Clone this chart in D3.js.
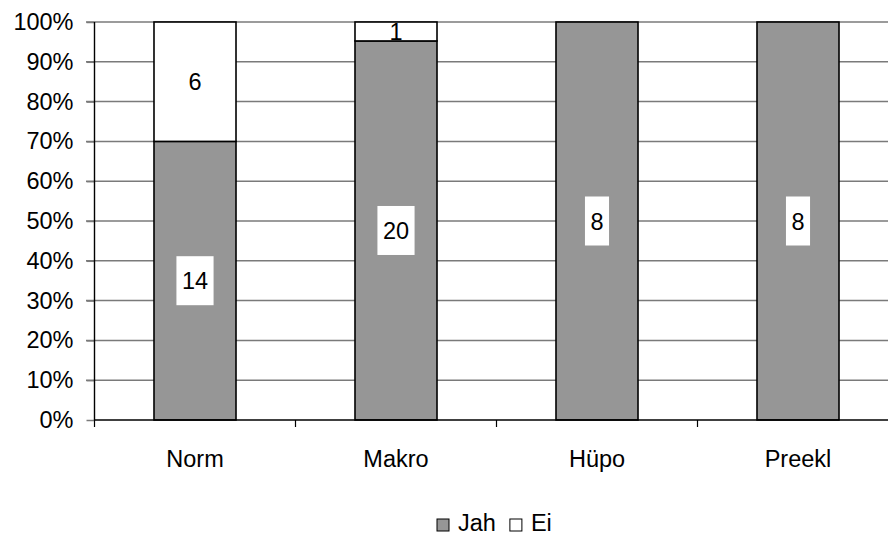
<!DOCTYPE html>
<html>
<head>
<meta charset="utf-8">
<script src="https://cdn.jsdelivr.net/npm/d3@7"></script>
<style>
  html, body { margin: 0; padding: 0; background: #fff; }
  svg { display: block; font-family: "Liberation Sans", Arial, sans-serif; }
</style>
</head>
<body>
<svg id="chart" width="888" height="535"></svg>
<script>
// Counts per group: "Jah" (yes) and "Ei" (no)
const categories = ["Norm", "Makro", "Hüpo", "Preekl"];
const jah = [14, 20, 8, 8];
const ei = [6, 1, 0, 0];
const seriesNames = ["Jah", "Ei"];
const yTicks = [0, 0.1, 0.2, 0.3, 0.4, 0.5, 0.6, 0.7, 0.8, 0.9, 1.0];

(function () {
  const rows = categories.map((c, i) => ({ cat: c, Jah: jah[i], Ei: ei[i] }));

  const svg = d3.select("#chart");
  const W = 888;
  const FS = 23.5;
  const plotLeft = 94.5, plotRight = 898.5, plotTop = 22, plotBottom = 420;

  const x = d3.scaleBand().domain(categories).range([plotLeft, plotRight]).paddingInner(0.592).paddingOuter(0.296);
  const y = d3.scaleLinear().domain([0, 1]).range([plotBottom, plotTop]);

  const stack = d3.stack().keys(seriesNames).offset(d3.stackOffsetExpand);
  const layers = stack(rows);
  const fills = { Jah: "#969696", Ei: "#ffffff" };

  // horizontal gridlines (also forming the y tick marks)
  svg.append("g").selectAll("line").data(yTicks.filter(t => t > 0)).join("line")
    .attr("x1", 86).attr("x2", W)
    .attr("y1", d => y(d)).attr("y2", d => y(d))
    .attr("stroke", "#7a7a7a").attr("stroke-width", 1.5);

  // y axis labels
  const yAxis = d3.axisLeft(y).tickValues(yTicks).tickFormat(d3.format(".0%")).tickSize(8).tickPadding(13);
  const gy = svg.append("g").attr("transform", `translate(${plotLeft},0)`).call(yAxis);
  gy.select(".domain").remove();
  gy.selectAll(".tick line").attr("stroke", "#7a7a7a").attr("stroke-width", 1.5);
  gy.selectAll(".tick text").attr("font-size", FS).attr("fill", "#000")
    .attr("font-family", "Liberation Sans, Arial, sans-serif");

  // stacked bars
  const gBars = svg.append("g");
  layers.forEach(layer => {
    gBars.append("g").selectAll("rect").data(layer.filter(d => d[1] - d[0] > 0)).join("rect")
      .attr("x", d => x(d.data.cat))
      .attr("width", x.bandwidth())
      .attr("y", d => y(d[1]))
      .attr("height", d => y(d[0]) - y(d[1]))
      .attr("fill", fills[layer.key])
      .attr("stroke", "#000").attr("stroke-width", 1.6);
  });

  // y axis line
  svg.append("line").attr("x1", plotLeft).attr("x2", plotLeft).attr("y1", plotTop).attr("y2", plotBottom)
    .attr("stroke", "#000").attr("stroke-width", 1.4);

  // x axis with ticks at category boundaries
  const gx = svg.append("g");
  gx.append("line").attr("x1", plotLeft).attr("x2", W).attr("y1", plotBottom).attr("y2", plotBottom)
    .attr("stroke", "#000").attr("stroke-width", 1.6);
  const step = x.step();
  const bounds = d3.range(categories.length + 1).map(i => plotLeft + i * step);
  gx.selectAll("line.tk").data(bounds).join("line").attr("class", "tk")
    .attr("x1", d => d).attr("x2", d => d).attr("y1", plotBottom).attr("y2", plotBottom + 7)
    .attr("stroke", "#000").attr("stroke-width", 1.2);
  gx.selectAll("text").data(categories).join("text")
    .attr("x", d => x(d) + x.bandwidth() / 2).attr("y", 467)
    .attr("text-anchor", "middle").attr("font-size", FS).text(d => d);

  // value labels in the middle of each segment
  const gLab = svg.append("g");
  layers.forEach(layer => {
    layer.filter(d => d[1] - d[0] > 0).forEach(d => {
      const cx = x(d.data.cat) + x.bandwidth() / 2;
      const cy = y((d[0] + d[1]) / 2);
      const val = d.data[layer.key];
      const t = gLab.append("text").attr("x", cx).attr("y", cy + 8.5)
        .attr("text-anchor", "middle").attr("font-size", FS).text(val);
      if (layer.key === "Jah") {
        const w = t.node().getComputedTextLength() + 11;
        gLab.insert("rect", () => t.node())
          .attr("x", cx - w / 2).attr("y", cy - 24.5).attr("width", w).attr("height", 49)
          .attr("fill", "#fff");
      }
    });
  });

  // legend along the bottom edge
  const gLeg = svg.append("g");
  let lx = 437;
  const baseY = 531;
  seriesNames.forEach(name => {
    gLeg.append("rect").attr("x", lx).attr("y", baseY - 12).attr("width", 12).attr("height", 12)
      .attr("fill", fills[name]).attr("stroke", "#000").attr("stroke-width", 1);
    const t = gLeg.append("text").attr("x", lx + 21).attr("y", baseY).attr("font-size", FS).text(name);
    lx += 21 + t.node().getComputedTextLength() + 14;
  });
})();
</script>
</body>
</html>
